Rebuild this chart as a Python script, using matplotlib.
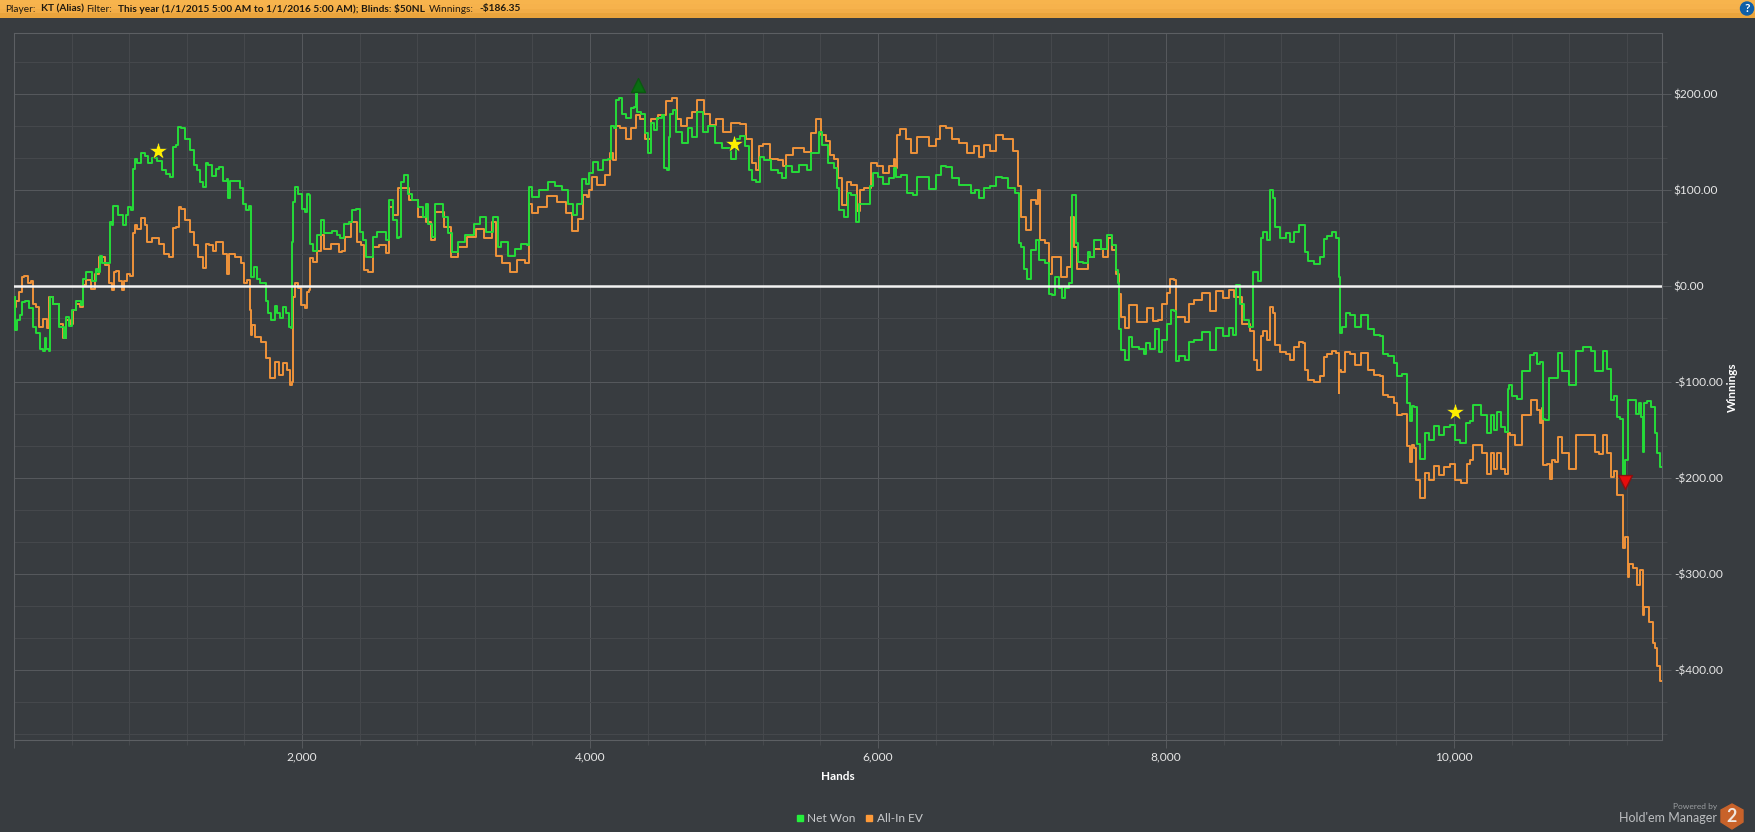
import numpy as np
import matplotlib
matplotlib.use('Agg')
import matplotlib.pyplot as plt
from matplotlib.lines import Line2D
from matplotlib.patches import Circle, Polygon
from matplotlib.ticker import FuncFormatter, MultipleLocator

plt.rcParams['font.family'] = ['Lato', 'Roboto', 'DejaVu Sans']

# (hands, dollars)
net_won = [(5,-11),(11,-46),(27,-35),(53,-30),(59,-16),(93,-15),(120,-23),(139,-42),(173,-49),(192,-65),(208,-68),(219,-54),(232,-65),(251,-67),(253,-11),(293,-18),(333,-42),(355,-54),(373,-32),(395,-41),(413,-25),(453,-15),(475,-20),(480,8),(520,15),(560,5),(573,18),(592,15),(600,32),(627,24),(667,24),(672,67),(688,64),(693,84),(715,84),(725,74),(752,74),(765,64),(787,74),(800,83),(821,79),(827,122),(848,133),(867,129),(899,139),(920,136),(939,129),(973,134),(1008,131),(1045,121),(1067,117),(1093,114),(1109,145),(1139,147),(1144,166),(1173,165),(1200,154),(1240,142),(1259,126),(1288,121),(1301,109),(1328,103),(1333,129),(1365,126),(1387,115),(1413,122),(1440,124),(1467,110),(1485,112),(1488,92),(1507,110),(1547,110),(1587,102),(1600,86),(1627,79),(1640,84),(1645,32),(1653,10),(1675,20),(1693,8),(1720,3),(1747,3),(1755,-15),(1776,-28),(1800,-35),(1819,-21),(1840,-28),(1859,-33),(1872,-22),(1899,-28),(1920,-42),(1931,-44),(1933,46),(1941,88),(1960,103),(1979,96),(2000,96),(2005,81),(2035,77),(2037,96),(2056,95),(2059,44),(2093,37),(2112,53),(2147,69),(2165,55),(2187,55),(2227,58),(2253,53),(2280,50),(2307,65),(2341,67),(2360,79),(2395,81),(2413,57),(2440,48),(2453,31),(2480,31),(2507,51),(2533,57),(2560,57),(2600,48),(2613,90),(2653,69),(2667,50),(2680,51),(2693,109),(2720,116),(2747,96),(2787,90),(2827,83),(2848,72),(2869,86),(2880,65),(2920,51),(2933,86),(2960,86),(3000,72),(3027,55),(3059,36),(3107,46),(3160,53),(3227,65),(3240,72),(3320,57),(3333,72),(3355,72),(3365,41),(3400,46),(3467,32),(3493,39),(3547,44),(3573,43),(3581,103),(3613,93),(3680,100),(3733,109),(3787,105),(3827,100),(3867,86),(3893,74),(3933,86),(3960,112),(3979,107),
    (4003,118),(4035,130),(4069,121),(4109,132),(4143,133),(4151,167),(4181,165),(4183,194),(4215,196),(4228,180),(4268,175),(4295,186),(4313,187),(4319,201),(4329,182),(4374,180),(4396,160),(4414,139),(4428,170),(4454,163),(4481,175),(4513,179),(4521,123),(4544,121),(4547,156),(4566,180),(4587,184),(4614,161),(4661,149),(4693,165),(4720,156),(4768,182),(4799,161),(4839,167),(4892,149),(4946,144),(5007,133),(5017,154),(5065,157),(5092,146),(5118,121),(5131,111),(5171,109),(5185,135),(5238,132),(5278,121),(5331,118),(5336,113),(5384,125),(5424,119),(5477,126),(5530,121),(5543,139),(5583,139),(5604,161),(5623,147),(5676,128),(5708,123),(5721,102),(5742,79),(5782,72),(5795,97),(5835,95),(5862,67),(5875,86),(5928,86),(5955,104),(5973,118),(6021,114),(6047,107),(6101,113),(6114,123),(6141,114),(6181,116),(6228,97),(6255,95),(6287,114),(6327,114),(6380,101),(6428,116),(6446,125),(6499,124),(6526,113),(6592,106),(6637,106),(6659,97),(6685,100),(6720,92),(6752,102),(6805,105),(6839,114),(6884,113),(6924,102),(6972,97),(6983,45),(7004,41),(7017,18),(7052,8),(7078,38),(7110,48),(7131,27),(7185,24),(7190,-8),(7222,-9),(7230,10),(7251,10),(7264,-2),(7291,-12),(7310,-2),(7336,3),(7355,95),(7371,95),(7376,45),(7397,25),(7450,24),(7461,36),(7482,31),(7522,48),(7575,39),(7607,53),(7641,43),(7662,17),(7671,3),
    (7676,-45),(7694,-66),(7734,-77),(7745,-53),(7780,-63),(7838,-65),(7854,-71),(7873,-59),(7907,-65),(7942,-45),(7958,-69),(7988,-56),(8023,-39),(8042,-25),(8063,-26),(8069,-78),(8116,-73),(8150,-77),(8174,-58),(8220,-56),(8282,-48),(8324,-66),(8370,-44),(8417,-52),(8451,-44),(8482,-51),(8486,1),(8500,1),(8521,-18),(8556,-35),(8602,-42),(8609,15),(8625,15),(8655,5),(8664,50),(8683,57),(8718,48),(8729,100),(8755,92),(8759,62),(8822,50),(8845,55),(8880,46),(8903,57),(8938,64),(8961,64),(8972,36),(8995,26),(9053,23),(9083,31),(9104,49),(9134,52),(9164,57),(9199,50),(9204,10),(9208,-49),(9238,-42),(9262,-28),(9296,-30),(9331,-42),(9377,-30),(9424,-45),(9470,-51),(9500,-52),(9516,-71),(9563,-73),(9597,-80),(9616,-94),
    (9664,-91),(9687,-122),(9704,-140),(9711,-125),(9734,-126),(9745,-164),(9787,-180),(9803,-153),(9850,-160),(9873,-146),(9919,-155),(9942,-147),(10000,-145),(10019,-160),(10069,-163),(10093,-143),(10127,-140),(10134,-124),(10162,-124),(10215,-134),(10243,-153),(10266,-134),(10289,-150),(10313,-131),(10336,-147),(10370,-152),(10375,-107),(10394,-103),(10417,-114),(10463,-118),(10475,-88),(10509,-88),(10544,-72),(10563,-70),(10583,-81),(10613,-79),(10625,-138),(10644,-139),(10676,-96),(10713,-96),(10729,-70),(10764,-88),(10833,-103),(10863,-68),(10926,-63),(10972,-67),(10991,-88),(11030,-88),(11042,-68),(11088,-86),(11095,-119),(11123,-114),(11139,-136),(11169,-138),(11176,-197),(11204,-181),(11215,-119),(11250,-119),(11273,-133),(11292,-122),(11308,-136),(11315,-173),(11327,-122),(11354,-120),(11384,-126),(11400,-153),(11417,-174),(11447,-188)]

all_in_ev = [(5,-22),(21,-15),(48,-6),(59,10),(85,11),(107,3),(128,5),(139,-18),(160,-22),(192,-42),(213,-34),(240,-44),(253,-11),(293,-18),(333,-39),(352,-54),(373,-35),(400,-39),(413,-25),(448,-18),(475,-22),(485,1),(520,6),(555,-3),(573,13),(613,31),(653,22),(667,3),(688,-4),(699,15),(720,16),(733,5),(760,-4),(773,5),(795,13),(821,11),(827,55),(848,64),(867,60),(899,71),(920,64),(933,46),(987,50),(1027,44),(1053,34),(1093,31),(1109,61),(1139,62),(1147,83),(1179,81),(1200,69),(1245,57),(1259,43),(1293,31),(1328,19),(1333,44),(1373,43),(1392,37),(1413,46),(1440,46),(1467,34),(1485,13),(1507,34),(1560,31),(1592,24),(1605,3),(1632,6),(1640,-25),(1645,-51),(1667,-40),(1685,-53),(1747,-58),(1755,-75),(1800,-96),(1819,-79),(1859,-93),(1880,-80),(1907,-87),(1925,-103),(1931,-100),(1941,-11),(1960,3),(1987,-2),(2000,-20),(2035,-23),(2040,-6),(2058,-4),(2059,29),(2093,25),(2112,37),(2147,53),(2160,39),(2240,44),(2267,36),(2293,37),(2307,51),(2373,67),(2395,46),(2427,43),(2440,17),(2480,15),(2507,41),(2560,43),(2600,35),(2613,83),(2653,74),(2680,102),(2720,102),(2760,90),(2853,72),(2869,67),(2920,48),(2933,77),(2960,77),(3013,62),(3061,30),(3107,41),(3187,51),(3227,60),(3307,50),(3333,67),(3360,32),(3413,24),(3472,15),(3520,27),(3573,24),(3581,86),(3613,76),(3667,83),(3733,94),(3813,88),(3853,76),(3893,58),(3941,70),(3968,95),(3987,93),
    (4003,100),(4029,114),(4069,106),(4135,116),(4149,139),(4175,132),(4189,167),(4228,165),(4268,153),(4308,165),(4335,179),(4361,174),(4401,153),(4441,174),(4507,179),(4547,193),(4595,196),(4614,174),(4653,167),(4693,175),(4720,182),(4765,194),(4813,180),(4853,168),(4900,174),(4946,161),(5012,170),(5065,169),(5105,153),(5145,128),(5166,121),(5185,146),(5224,148),(5278,133),(5331,132),(5344,125),(5384,137),(5437,144),(5530,140),(5543,160),(5596,174),(5609,158),(5663,151),(5676,137),(5716,133),(5729,113),(5769,85),(5795,109),(5835,106),(5867,78),(5883,100),(5928,102),(5968,128),(6021,125),(6047,118),(6101,125),(6114,133),(6127,123),(6141,158),(6162,164),(6220,154),(6234,139),(6260,139),(6287,156),(6327,156),(6380,146),(6420,154),(6438,167),(6499,165),(6526,154),(6592,149),(6645,139),(6685,146),(6720,135),(6752,147),(6805,141),(6839,158),(6898,154),(6972,141),(6977,104),(7009,72),(7052,59),(7078,90),(7110,86),(7118,100),(7131,48),(7185,45),(7190,13),(7222,31),(7257,31),(7283,10),(7336,20),(7349,72),(7371,41),(7397,18),(7450,18),(7469,31),(7535,39),(7583,31),(7609,50),(7641,38),(7662,13),(7681,-8),(7694,-32),
    (7734,-44),(7747,-20),(7849,-37),(7880,-23),(7933,-36),(7958,-35),(7988,-18),(8019,-7),(8042,8),(8065,7),(8069,-32),(8116,-32),(8150,-37),(8174,-18),(8220,-14),(8282,-7),(8324,-26),(8370,-5),(8417,-12),(8451,-4),(8498,-11),(8556,-39),(8609,-47),(8613,-77),(8655,-87),(8664,-52),(8683,-47),(8718,-56),(8729,-22),(8755,-28),(8764,-61),(8822,-69),(8845,-71),(8880,-77),(8903,-63),(8938,-58),(8961,-59),(8972,-87),(8995,-98),(9053,-100),(9083,-94),(9104,-74),(9134,-71),(9164,-67),(9197,-70),(9199,-111),(9208,-87),(9227,-89),(9262,-69),(9296,-71),(9331,-82),(9377,-70),(9424,-87),(9470,-92),(9500,-94),(9516,-113),(9563,-115),(9597,-122),(9616,-134),
    (9664,-133),(9687,-167),(9704,-183),(9711,-166),(9734,-169),(9741,-202),(9787,-221),(9803,-195),(9850,-202),(9873,-187),(9919,-197),(9942,-188),(10000,-185),(10019,-202),(10081,-205),(10093,-185),(10127,-181),(10134,-166),(10174,-166),(10215,-174),(10243,-196),(10266,-174),(10289,-190),(10313,-174),(10336,-190),(10370,-196),(10375,-153),(10405,-155),(10440,-166),(10468,-166),(10475,-134),(10509,-134),(10556,-119),(10590,-129),(10602,-143),(10613,-127),(10625,-186),(10660,-185),(10676,-201),(10690,-181),(10713,-183),(10729,-157),(10764,-174),(10833,-191),(10863,-155),(10972,-155),(10984,-173),(11030,-175),(11042,-155),(11088,-174),(11095,-199),(11130,-193),(11134,-218),(11169,-218),(11176,-273),(11204,-261),(11208,-303),(11222,-290),(11262,-294),(11273,-311),(11308,-296),(11315,-343),(11327,-334),(11378,-350),(11389,-372),(11407,-377),(11412,-396),(11447,-411)]

star_points = [(1000, 141), (4999, 148), (10005, -131)]
best_point = (4335, 210)
worst_point = (11190, -204)

BG = '#383c40'
W, H = 1756, 832

fig = plt.figure(figsize=(W / 100, H / 100), dpi=100, facecolor=BG)

# everything outside the plot is placed in pixels on a full figure overlay
over = fig.add_axes([0, 0, 1, 1], zorder=0)
over.set_xlim(0, W)
over.set_ylim(H, 0)
over.axis('off')

grad = np.array([[0.0], [0.15], [0.6], [1.0]])
bar = matplotlib.colors.LinearSegmentedColormap.from_list('bar', ['#f7b44d', '#f5b04a', '#eaa43c'])
over.imshow(grad, extent=(0, W, 18, 0), cmap=bar, aspect='auto', zorder=1)
over.set_xlim(0, W)
over.set_ylim(H, 0)

header = [(5, 'Player:', 'normal'), (41, 'KT (Alias)', 'bold'), (86.5, 'Filter:', 'normal'),
          (118, 'This year (1/1/2015 5:00 AM to 1/1/2016 5:00 AM); Blinds: $50NL', 'bold'),
          (428.6, 'Winnings:', 'normal'), (479, '-$186.35', 'bold')]
for x, s, w in header:
    over.text(x, 9, s, color='#201a10', fontsize=7.3, fontweight=w, ha='left', va='center', zorder=2)

over.add_patch(Circle((1747, 8.5), 6.5, color='#0f5fa8', zorder=2))
over.text(1747, 8.5, '?', color='white', fontsize=8.5, fontweight='bold', ha='center', va='center', zorder=3)

over.text(838, 777, 'Hands', color='white', fontsize=8.5, fontweight='bold', ha='center', va='center')
over.text(1732, 387, 'Winnings', color='white', fontsize=8.5, fontweight='bold', rotation=90, ha='center', va='center')

over.text(1717, 807, 'Powered by', color='#9a9da0', fontsize=6, ha='right', va='center')
over.text(1717, 818, "Hold'em Manager", color='#bcbec0', fontsize=9, ha='right', va='center')
over.add_patch(Polygon([(1732, 804), (1743, 810), (1743, 822), (1732, 829), (1721, 822), (1721, 810)],
                       closed=True, color='#c8622a'))
over.text(1732, 816, '2', color='#f0e6de', fontsize=13, fontweight='bold', ha='center', va='center')

ax = fig.add_axes([14 / W, 1 - 740 / H, (1662 - 14) / W, (740 - 33) / H], zorder=1)
ax.set_facecolor('#383c40')

nx, ny = np.array(net_won).T
ex, ey = np.array(all_in_ev).T
ax.plot(ex, ey, color='#f0933a', lw=1.4, drawstyle='steps-mid', zorder=3)
ax.plot(nx, ny, color='#25dc38', lw=1.4, drawstyle='steps-mid', zorder=4)
ax.axhline(0, color='#f2f2f2', lw=1.8, zorder=5)

sx, sy = zip(*star_points)
ax.scatter(sx, sy, marker='*', s=190, color='#ffee00', edgecolor='#26305a', linewidth=0.4, zorder=6)
ax.scatter(*best_point, marker='^', s=100, color='#0a6e12', edgecolor='#0a5a10', zorder=6)
ax.scatter(*worst_point, marker='v', s=100, color='#e80c0c', edgecolor='#8a1010', zorder=6)

ax.set_xlim(0, 11444)
ax.set_ylim(-473, 264)

ax.xaxis.set_major_locator(MultipleLocator(2000))
ax.xaxis.set_minor_locator(MultipleLocator(400))
ax.yaxis.set_major_locator(MultipleLocator(100))
ax.yaxis.set_minor_locator(MultipleLocator(100 / 3))
ax.yaxis.tick_right()
ax.xaxis.set_major_formatter(FuncFormatter(lambda v, p: f'{int(v):,}' if v > 0 else ''))
ax.yaxis.set_major_formatter(FuncFormatter(lambda v, p: f'${v:.2f}' if v >= 0 else f'-${-v:.2f}'))

ax.grid(which='major', color='#55585c', lw=0.75, zorder=1)
ax.grid(which='minor', color='#45484c', lw=0.75, zorder=1)
ax.set_axisbelow(True)
ax.tick_params(axis='x', which='major', length=6, width=0.75, color='#55585c', labelcolor='#e6e6e6', labelsize=8.6, pad=2)
ax.tick_params(axis='x', which='minor', length=3.5, width=0.75, color='#45484c')
ax.tick_params(axis='y', which='major', length=6.5, width=0.75, color='#55585c', labelcolor='#e6e6e6', labelsize=8.6, pad=2)
ax.tick_params(axis='y', which='minor', length=3.5, width=0.75, color='#45484c')
for spine in ax.spines.values():
    spine.set_color('#5c5f63')
    spine.set_linewidth(0.8)

handles = [Line2D([], [], color='#25f03c', marker='s', ls='', ms=4.5, label='Net Won'),
           Line2D([], [], color='#ff9a38', marker='s', ls='', ms=4.5, label='All-In EV')]
fig.legend(handles=handles, loc='center', bbox_to_anchor=(858 / W, 1 - 819 / H), ncol=2, frameon=False,
           fontsize=8.6, labelcolor='#c8cacc', handletextpad=0.1, columnspacing=0.7, borderpad=0, handlelength=1)

fig.savefig('out.png', dpi=100, facecolor=fig.get_facecolor())
